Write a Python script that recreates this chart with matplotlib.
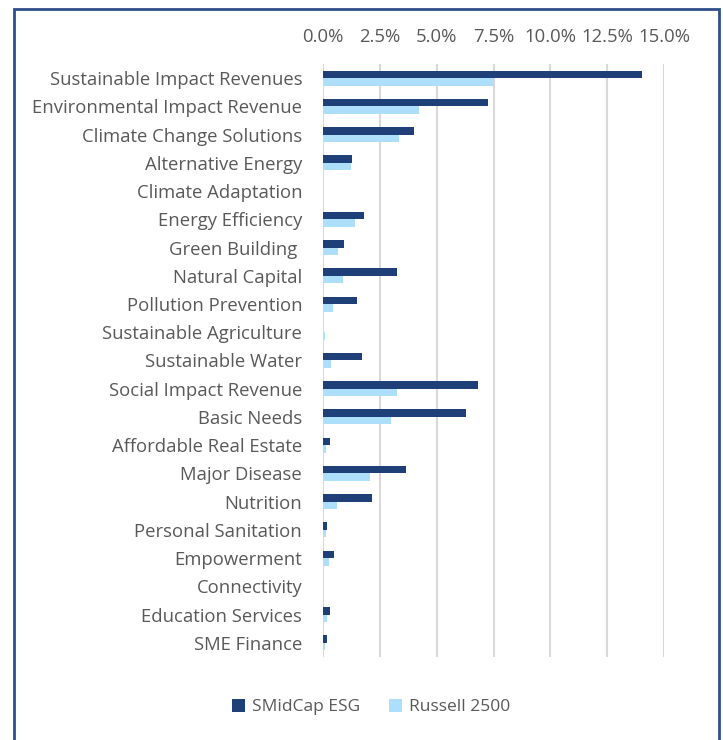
import numpy as np
import matplotlib.pyplot as plt
from matplotlib.patches import Rectangle
from matplotlib.ticker import FuncFormatter

categories = [
    'Sustainable Impact Revenues', 'Environmental Impact Revenue',
    'Climate Change Solutions', 'Alternative Energy', 'Climate Adaptation',
    'Energy Efficiency', 'Green Building ', 'Natural Capital',
    'Pollution Prevention', 'Sustainable Agriculture', 'Sustainable Water',
    'Social Impact Revenue', 'Basic Needs', 'Affordable Real Estate',
    'Major Disease', 'Nutrition', 'Personal Sanitation', 'Empowerment',
    'Connectivity', 'Education Services', 'SME Finance',
]
smidcap = [14.05, 7.26, 4.00, 1.28, 0.0, 1.79, 0.91, 3.24, 1.51, 0.0, 1.72,
           6.81, 6.29, 0.31, 3.65, 2.16, 0.16, 0.48, 0.0, 0.29, 0.19]
russell = [7.51, 4.24, 3.35, 1.23, 0.0, 1.41, 0.65, 0.87, 0.45, 0.07, 0.34,
           3.24, 2.99, 0.13, 2.07, 0.60, 0.12, 0.25, 0.0, 0.16, 0.07]
xticks = [0, 2.5, 5, 7.5, 10, 12.5, 15]

dark = '#1F3F78'
light = '#ADDFFA'
txt = '#595959'

plt.rcParams['font.family'] = ['Open Sans', 'DejaVu Sans']

fig = plt.figure(figsize=(7.23, 7.40), dpi=100)
ax = fig.add_axes([323 / 723, 1 - 657 / 740, (664 - 323) / 723, (657 - 64) / 740])

y = np.arange(len(categories))
h = 0.265
ax.barh(y - h / 2, smidcap, height=h, color=dark, label='SMidCap ESG')
ax.barh(y + h / 2, russell, height=h, color=light, label='Russell 2500')

ax.set_xlim(0, 15)
ax.set_ylim(len(categories) - 0.5, -0.5)
ax.set_xticks(xticks)
ax.xaxis.set_major_formatter(FuncFormatter(lambda v, p: f'{v:.1f}%'))
ax.xaxis.tick_top()
ax.set_yticks(y)
ax.set_yticklabels(categories)
ax.tick_params(axis='x', length=0, pad=13, labelsize=13.3, colors=txt)
ax.tick_params(axis='y', length=0, pad=15, labelsize=13.3, colors=txt)
ax.grid(axis='x', color='#D9D9D9', linewidth=1.5)
ax.set_axisbelow(True)
for s in ax.spines.values():
    s.set_visible(False)

leg = fig.legend(loc='center', bbox_to_anchor=(371 / 723, 1 - 707 / 740),
                 ncol=2, frameon=False, fontsize=12.5, handlelength=0.75,
                 handleheight=0.75, handletextpad=0.4, columnspacing=1.7)
for t in leg.get_texts():
    t.set_color(txt)

# chart border
fig.patches.append(Rectangle((13.5 / 723, -0.01), (719 - 13.5) / 723, 1 - 8.5 / 740 + 0.01,
                             transform=fig.transFigure, fill=False,
                             edgecolor='#2F4F8A', linewidth=2))

fig.savefig('out.png', dpi=100)
